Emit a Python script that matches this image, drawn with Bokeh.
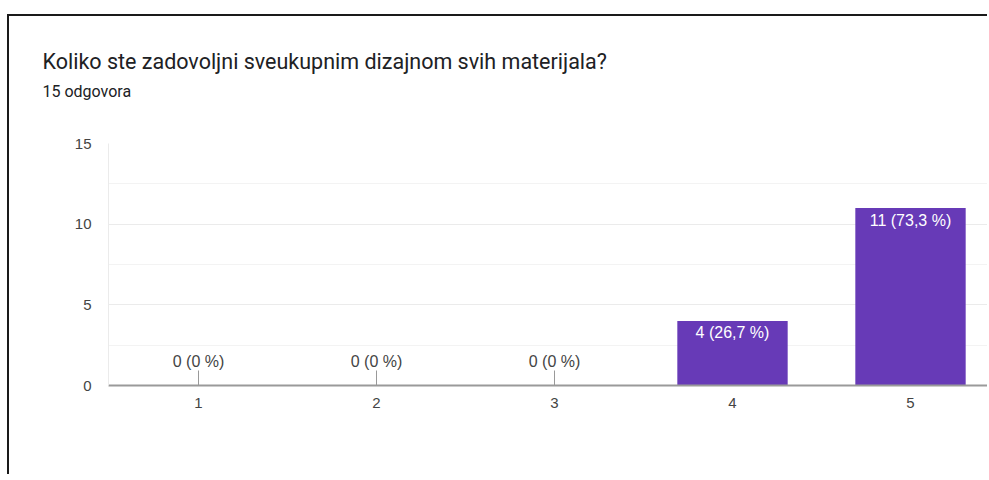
from bokeh.plotting import figure
from bokeh.models import Title, FixedTicker, Range1d, ColumnDataSource
from bokeh.core.properties import value
from bokeh.embed import file_html
from bokeh.resources import INLINE

title_text = "Koliko ste zadovoljni sveukupnim dizajnom svih materijala?"
subtitle_text = "15 odgovora"
categories = ["1", "2", "3", "4", "5"]
counts = [0, 0, 0, 4, 11]
total = 15
y_ticks = [0, 5, 10, 15]

def fmt_pct(c):
    p = 100.0 * c / total
    s = ("%d" % round(p)) if abs(p - round(p)) < 1e-9 else ("%.1f" % p).replace(".", ",")
    return "%d (%s %%)" % (c, s)

labels = [fmt_pct(c) for c in counts]
xs = list(range(1, len(categories) + 1))

UI_FONT = "Roboto"
CH_FONT = "Liberation Sans"
W, H = 980, 460
frame_left, frame_bottom_px, frame_top_px = 99, 91, 127
frame_h = H - frame_bottom_px - frame_top_px
frame_w = W - frame_left
px_per_cat = 178.0
x0 = 1 - 90 / px_per_cat

p = figure(width=W, height=H, output_backend="svg", toolbar_location=None,
           x_range=Range1d(x0, x0 + frame_w / px_per_cat), y_range=Range1d(0, 15),
           min_border_left=frame_left, min_border_right=0,
           min_border_top=frame_top_px, min_border_bottom=frame_bottom_px)
p.styles = {"border-top": "2px solid #1a1a1a", "border-left": "2px solid #1a1a1a",
            "margin-top": "14px", "margin-left": "7px"}
p.outline_line_color = None
p.background_fill_color = "white"
p.border_fill_color = "white"

# grid
p.xgrid.grid_line_color = None
p.ygrid.grid_line_color = "#ebebeb"
p.ygrid.minor_grid_line_color = "#f3f3f3"
p.yaxis.ticker = FixedTicker(ticks=y_ticks, minor_ticks=[2.5, 7.5, 12.5])

# axes
p.xaxis.ticker = FixedTicker(ticks=xs)
p.xaxis.major_label_overrides = {x: c for x, c in zip(xs, categories)}
p.xaxis.axis_line_color = "#9a9a9a"
p.xaxis.axis_line_width = 2
p.xaxis.major_tick_line_color = None
p.xaxis.minor_tick_line_color = None
p.xaxis.major_label_standoff = 6
p.yaxis.axis_line_color = "#ebebeb"
p.yaxis.major_tick_line_color = None
p.yaxis.minor_tick_line_color = None
p.yaxis.major_label_standoff = 11
for ax in (p.xaxis, p.yaxis):
    ax.major_label_text_font = CH_FONT
    ax.major_label_text_font_size = "15px"
    ax.major_label_text_color = "#444444"

src = ColumnDataSource(dict(x=xs, top=counts, label=labels))
p.vbar(x="x", top="top", width=0.62, source=src, fill_color="#673ab7", line_color=None)

# value labels
nz = [i for i, c in enumerate(counts) if c > 0]
zz = [i for i, c in enumerate(counts) if c == 0]
p.text(x=[xs[i] for i in nz], y=[counts[i] for i in nz], text=[labels[i] for i in nz],
       text_font=value(CH_FONT), text_font_size="16px", text_color="white",
       text_align="center", text_baseline="middle", y_offset=12)
p.text(x=[xs[i] for i in zz], y=[0 for i in zz], text=[labels[i] for i in zz],
       text_font=value(CH_FONT), text_font_size="16px", text_color="#444444",
       text_align="center", text_baseline="middle", y_offset=-24)
stem = 15.0 * 15 / frame_h
p.segment(x0=[xs[i] for i in zz], y0=[0 for i in zz], x1=[xs[i] for i in zz],
          y1=[stem for i in zz], line_color="#999999", line_width=1)

# titles (first added = closest to the frame): blank spacer, subtitle, title
p.add_layout(Title(text=" ", align="left", standoff=19,
                   text_font=UI_FONT, text_font_size="16px", text_color="white"), "above")
p.add_layout(Title(text=subtitle_text, align="left", offset=-66, standoff=6,
                   text_font=UI_FONT, text_font_size="16px", text_font_style="normal",
                   text_color="#202124"), "above")
p.add_layout(Title(text=title_text, align="left", offset=-66, standoff=6,
                   text_font=UI_FONT, text_font_size="21.5px", text_font_style="normal",
                   text_color="#202124"), "above")

open("out.html", "w").write(file_html(p, INLINE))
